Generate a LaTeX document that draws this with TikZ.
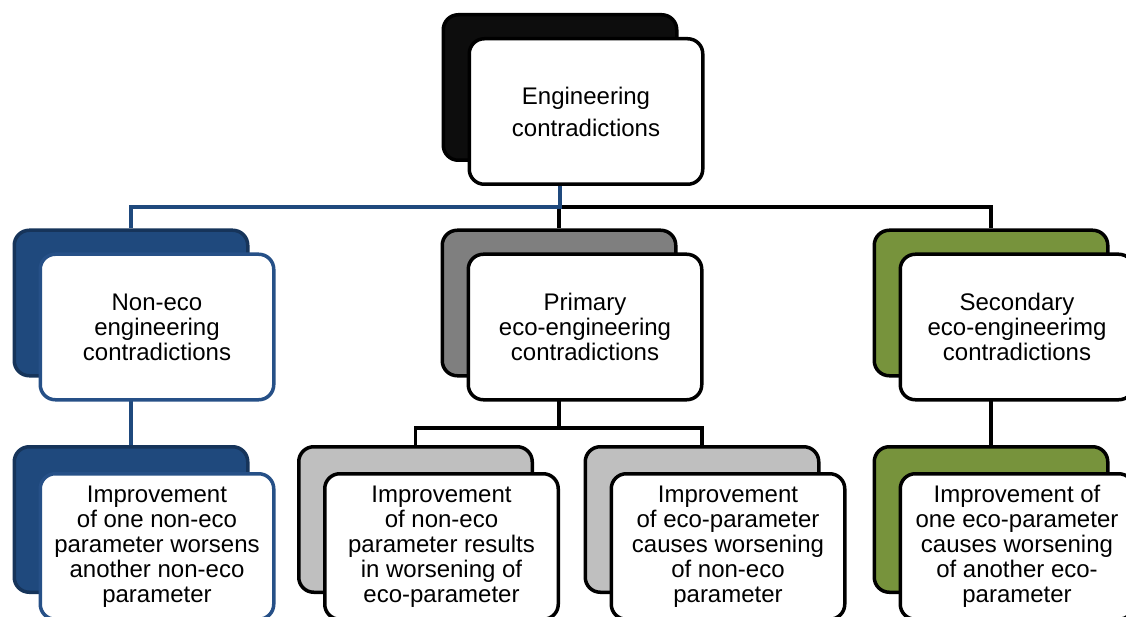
\documentclass[tikz,border=0pt]{standalone}
\usepackage{fontspec}
\setmainfont{Liberation Sans}
\usetikzlibrary{backgrounds}
\definecolor{ecoblue}{RGB}{31,73,125}
\definecolor{ecobluedark}{RGB}{22,52,90}
\definecolor{ecoblueline}{RGB}{38,80,135}
\definecolor{ecogreen}{RGB}{119,147,60}
\definecolor{ecogray}{RGB}{127,127,127}
\definecolor{ecolight}{RGB}{191,191,191}
\definecolor{ecoblack}{RGB}{13,13,13}
\tikzset{
  shd/.style={draw=black, line width=3.5pt, rounded corners=15pt,
              minimum width=233.5pt, minimum height=145.5pt, inner sep=0pt},
  frt/.style={draw=black, fill=white, line width=3.5pt, rounded corners=15pt,
              minimum width=233.5pt, minimum height=145.5pt, inner sep=0pt,
              align=center, font={\fontsize{24}{25}\selectfont}},
  conn/.style={line width=3.5pt, black},
  bconn/.style={line width=3.5pt, ecoblue},
}

\begin{document}
\begin{tikzpicture}[x=1pt, y=-1pt]
    \useasboundingbox (0,0) rectangle (1126,617);
    \clip (0,0) rectangle (1126,617);
    % top level
    \node[shd, fill=ecoblack] (s0) at (560,87.5) {};
    \node[frt] (f0) at ([shift={(26,24)}]s0.center) {Engineering\\[7pt]contradictions};
    % second level
    \node[shd, fill=ecoblue, draw=ecobluedark] (s1) at (131,303) {};
    \node[frt, draw=ecoblueline] (f1) at ([shift={(26,24)}]s1.center) {Non-eco\\engineering\\contradictions};
    \node[shd, fill=ecogray] (s2) at (559,303) {};
    \node[frt] (f2) at ([shift={(26,24)}]s2.center) {Primary\\eco-engineering\\contradictions};
    \node[shd, fill=ecogreen] (s3) at (991,303) {};
    \node[frt] (f3) at ([shift={(26,24)}]s3.center) {Secondary\\eco-engineerimg\\contradictions};
    % third level
    \node[shd, fill=ecoblue, draw=ecobluedark] (s4) at (131,519.5) {};
    \node[frt, draw=ecoblueline] (f4) at ([shift={(26,27)}]s4.center) {Improvement\\of one non-eco\\parameter worsens\\another non-eco\\parameter};
    \node[shd, fill=ecolight] (s5) at (415.5,519.5) {};
    \node[frt] (f5) at ([shift={(26,27)}]s5.center) {Improvement\\of non-eco\\parameter results\\in worsening of\\eco-parameter};
    \node[shd, fill=ecolight] (s6) at (702,519.5) {};
    \node[frt] (f6) at ([shift={(26,27)}]s6.center) {Improvement\\of eco-parameter\\causes worsening\\of non-eco\\parameter};
    \node[shd, fill=ecogreen] (s7) at (991,519.5) {};
    \node[frt] (f7) at ([shift={(26,27)}]s7.center) {Improvement of\\one eco-parameter\\causes worsening\\of another eco-\\parameter};
    % connectors
    \coordinate (bus1) at (560,207);
    \coordinate (bus2) at (559,428);
    \begin{scope}[on background layer]
      \draw[conn] (bus1) -| (s2.north);
      \draw[conn] (bus1) -| (s3.north);
      \draw[bconn] (s0.south) -- (bus1) -| (s1.north);
      \draw[bconn] (s1.south) -- (s4.north);
      \draw[conn] (s2.south) -- (bus2);
      \draw[conn] (s5.north) |- (bus2) -| (s6.north);
      \draw[conn] (s3.south) -- (s7.north);
    \end{scope}
  \end{tikzpicture}
\end{document}
